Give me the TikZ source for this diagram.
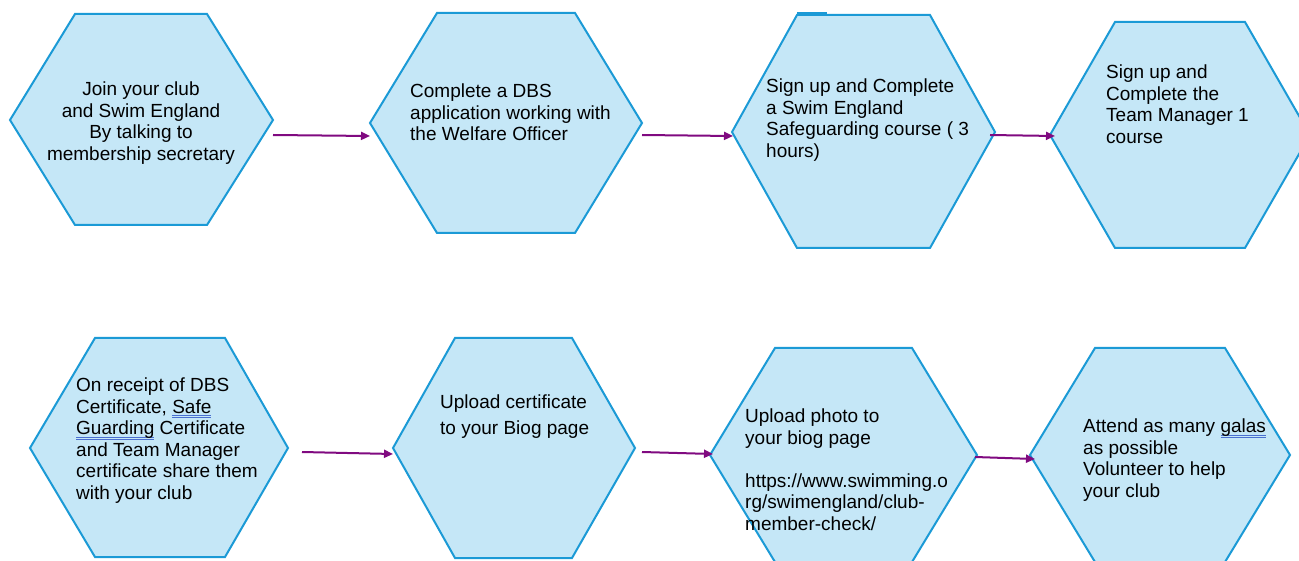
\documentclass[tikz,border=0pt]{standalone}
\usepackage{fontspec}
\setmainfont{Liberation Sans}
\usetikzlibrary{arrows.meta}
\definecolor{hexfill}{HTML}{C5E7F7}
\definecolor{hexline}{HTML}{1B9AD6}
\definecolor{arrowc}{HTML}{800A80}
\definecolor{spellc}{HTML}{4A6FD0}
\newsavebox\spellbox
\newcommand\spellerr[1]{\sbox\spellbox{#1}\rlap{\textcolor{spellc}{\rule[-2.6pt]{\wd\spellbox}{0.6pt}}}\rlap{\textcolor{spellc}{\rule[-4.4pt]{\wd\spellbox}{0.6pt}}}\usebox\spellbox}
\begin{document}
\begin{tikzpicture}[x=1pt,y=-1pt,
  hexa/.style={draw=hexline,fill=hexfill,line width=2pt,line join=miter},
  conn/.style={draw=arrowc,line width=2pt,-{Triangle[length=9pt,width=8pt]}},
  lbl/.style={inner sep=0pt,font=\fontsize{19}{21.5}\selectfont,align=left,anchor=north west},
  lblc/.style={lbl,align=center,anchor=north}]
\useasboundingbox (0,0) rectangle (1299,561);
\clip (0,0) rectangle (1299,561);
\fill[white] (0,0) rectangle (1299,561);
% hexagons
\draw[hexa] (10,120)--(75,14)--(207,14)--(273,120)--(207,225)--(75,225)--cycle;
\draw[hexa] (370,123)--(437,13)--(575,13)--(642,123)--(575,233)--(437,233)--cycle;
\draw[hexa] (732,132)--(797,15)--(930,15)--(995,132)--(930,248)--(797,248)--cycle;
\draw[hexline,line width=2pt] (797,13.5)--(827,13.5);
\draw[hexa] (1050,135)--(1115,22)--(1245,22)--(1310,135)--(1245,248)--(1115,248)--cycle;
\draw[hexa] (30,448)--(95,338)--(225,338)--(288,448)--(225,557)--(95,557)--cycle;
\draw[hexa] (393,448)--(455,338)--(572,338)--(635,448)--(572,558)--(455,558)--cycle;
\draw[hexa] (710,455)--(775,348)--(912,348)--(977,455)--(912,562)--(775,562)--cycle;
\draw[hexa] (1030,455)--(1095,348)--(1225,348)--(1290,455)--(1225,562)--(1095,562)--cycle;
% texts
\node[lblc] (t1) at (141,82) {Join your club\\and Swim England\\By talking to\\membership secretary};
\node[lbl] (t2) at (410,84) {Complete a DBS\\application working with\\the Welfare Officer};
\node[lbl] (t3) at (766,79) {Sign up and Complete\\a Swim England\\Safeguarding course ( 3\\hours)};
\node[lbl] (t4) at (1106,65) {Sign up and\\Complete the\\Team Manager 1\\course};
\node[lbl] (t5) at (76,378) {On receipt of DBS\\Certificate, \spellerr{Safe}\\\spellerr{Guarding} Certificate\\and Team Manager\\certificate share them\\with your club};
\node[lbl,font=\fontsize{19}{26}\selectfont] (t6) at (440,395) {Upload certificate\\to your Biog page};
\node[lbl] (t7) at (745,409) {Upload photo to\\your biog page\\[21.5pt]https://www.swimming.o\\rg/swimengland/club-\\member-check/};
\node[lbl] (t8) at (1083,419) {Attend as many \spellerr{galas}\\as possible\\Volunteer to help\\your club};
% connector end points
\coordinate (a1s) at (273,135); \coordinate (a1e) at (370,136);
\coordinate (a2s) at (642,135); \coordinate (a2e) at (733,136);
\coordinate (a3s) at (990,135); \coordinate (a3e) at (1055,136);
\coordinate (a4s) at (302,452); \coordinate (a4e) at (393,454);
\coordinate (a5s) at (642,452); \coordinate (a5e) at (713,454);
\coordinate (a6s) at (975,457); \coordinate (a6e) at (1035,459);
\draw[conn] (a1s)--(a1e);
\draw[conn] (a2s)--(a2e);
\draw[conn] (a3s)--(a3e);
\draw[conn] (a4s)--(a4e);
\draw[conn] (a5s)--(a5e);
\draw[conn] (a6s)--(a6e);
\end{tikzpicture}
\end{document}
